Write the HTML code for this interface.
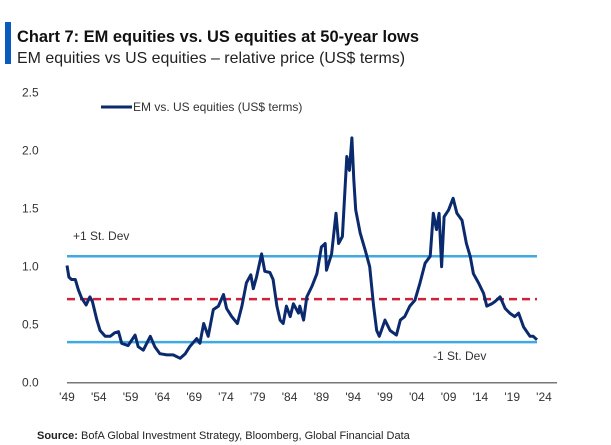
<!DOCTYPE html>
<html><head><meta charset="utf-8"><style>
html,body{margin:0;padding:0;background:#fff;}
svg{display:block;font-family:"Liberation Sans",sans-serif;}
</style></head><body>
<svg id="chart" width="611" height="445" viewBox="0 0 611 445">
<rect x="5" y="22" width="6" height="42" fill="#0b5bbf"/>
<text x="17" y="42" font-size="17" font-weight="bold" fill="#111" textLength="402" lengthAdjust="spacingAndGlyphs">Chart 7: EM equities vs. US equities at 50-year lows</text>
<text x="17" y="63" font-size="16" fill="#222" textLength="388" lengthAdjust="spacingAndGlyphs">EM equities vs US equities – relative price (US$ terms)</text>
<g id="plot"></g>
<text x="37" y="439" font-size="11" fill="#222"><tspan font-weight="bold">Source:</tspan> BofA Global Investment Strategy, Bloomberg, Global Financial Data</text>
</svg>
<script>
const years=[1949.0,1949.3,1949.7,1950.3,1950.8,1951.3,1952.0,1952.6,1953.0,1953.7,1954.2,1955.0,1955.8,1956.5,1957.1,1957.6,1958.6,1959.7,1960.2,1961.0,1962.1,1962.8,1963.6,1964.7,1965.7,1966.8,1967.6,1968.3,1969.4,1969.9,1970.5,1971.2,1972.0,1972.8,1973.6,1974.1,1974.9,1975.8,1976.5,1977.2,1977.9,1978.3,1978.8,1979.6,1980.1,1980.9,1981.4,1982.0,1982.5,1983.0,1983.5,1984.1,1984.6,1985.4,1985.6,1986.2,1986.7,1987.5,1988.3,1989.0,1989.6,1989.8,1990.6,1991.3,1991.7,1992.3,1993.0,1993.4,1993.8,1994.1,1994.4,1995.1,1995.9,1996.6,1997.2,1997.7,1998.1,1999.0,1999.8,2000.8,2001.4,2002.1,2002.9,2003.7,2004.5,2005.3,2006.1,2006.6,2007.1,2007.5,2007.9,2008.3,2009.0,2009.7,2010.3,2011.1,2011.8,2012.4,2012.9,2013.7,2014.5,2015.0,2015.8,2016.3,2017.1,2017.9,2018.6,2019.4,2020.0,2020.8,2021.8,2022.3,2022.9];
const values=[1.01,0.91,0.89,0.89,0.80,0.73,0.67,0.74,0.70,0.54,0.45,0.40,0.40,0.43,0.44,0.34,0.32,0.41,0.31,0.28,0.40,0.31,0.25,0.24,0.24,0.21,0.25,0.31,0.38,0.34,0.51,0.40,0.63,0.66,0.76,0.64,0.57,0.51,0.66,0.86,0.93,0.81,0.91,1.11,0.96,0.95,0.89,0.66,0.54,0.51,0.66,0.57,0.68,0.60,0.66,0.54,0.74,0.83,0.94,1.17,1.20,0.97,1.11,1.46,1.20,1.26,1.95,1.83,2.11,1.75,1.49,1.29,1.14,1.00,0.66,0.45,0.40,0.54,0.45,0.41,0.54,0.57,0.66,0.71,0.86,1.03,1.09,1.46,1.32,1.46,1.00,1.43,1.49,1.59,1.46,1.40,1.20,1.09,0.94,0.86,0.77,0.66,0.68,0.70,0.74,0.64,0.60,0.57,0.60,0.48,0.40,0.40,0.37];
const yTicks=[0,0.5,1.0,1.5,2.0,2.5];
const xTickYears=[1949,1954,1959,1964,1969,1974,1979,1984,1989,1994,1999,2004,2009,2014,2019,2024];
const plusSD=[1.09];
const meanVal=[0.72];
const minusSD=[0.35];
const NS="http://www.w3.org/2000/svg";
const g=document.getElementById('plot');
const X=y=>67+(y-1949)*6.36;
const Y=v=>382.7-v*116;
function mk(t,a){const e=document.createElementNS(NS,t);for(const k in a)e.setAttribute(k,a[k]);g.appendChild(e);return e;}
yTicks.forEach(v=>{const t=mk('text',{x:22,y:Y(v)+4,'font-size':12,fill:'#333'});t.textContent=v.toFixed(1);

});
const ax=mk('line',{x1:67,x2:557,y1:Y(0),y2:Y(0),stroke:'#777','stroke-width':1.5});


xTickYears.forEach(yr=>{const t=mk('text',{x:X(yr),y:401,'font-size':12,fill:'#333','text-anchor':'middle'});t.textContent="'"+String(yr).slice(2);

});
const l1=mk('line',{x1:67,x2:537,y1:Y(plusSD[0]),y2:Y(plusSD[0]),stroke:'#3fa9e0','stroke-width':2.5});


const l2=mk('line',{x1:67,x2:537,y1:Y(meanVal[0]),y2:Y(meanVal[0]),stroke:'#d0213a','stroke-width':2.5,'stroke-dasharray':'8,5'});


const l3=mk('line',{x1:67,x2:537,y1:Y(minusSD[0]),y2:Y(minusSD[0]),stroke:'#3fa9e0','stroke-width':2.5});


const t1=mk('text',{x:73,y:240,'font-size':12,fill:'#333'});t1.textContent='+1 St. Dev';


const t2=mk('text',{x:433,y:360,'font-size':12,fill:'#333'});t2.textContent='-1 St. Dev';


const p=mk('path',{d:years.map((yr,i)=>(i?'L':'M')+X(yr).toFixed(1)+','+Y(values[i]).toFixed(1)).join(''),fill:'none',stroke:'#0b2a6e','stroke-width':3,'stroke-linejoin':'round'});


const lg=mk('line',{x1:101,x2:132,y1:107,y2:107,stroke:'#0b2a6e','stroke-width':3});


const lt=mk('text',{x:133,y:111,'font-size':12,fill:'#333'});lt.textContent='EM vs. US equities (US$ terms)';


</script>
</body></html>
